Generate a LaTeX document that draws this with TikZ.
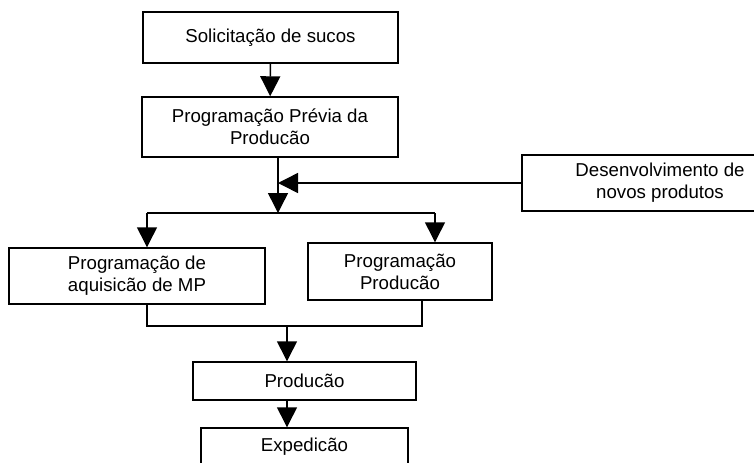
\documentclass[tikz,border=0pt]{standalone}
\usepackage{fontspec}
\setmainfont{Liberation Sans}
\usetikzlibrary{arrows.meta,positioning,calc}

\begin{document}
\begin{tikzpicture}[x=0.75pt,y=-0.75pt,
    caixa/.style={draw,line width=1.1pt,align=center,inner sep=2pt,font=\fontsize{14}{16.5}\selectfont},
    seta/.style={line width=1.1pt,-{Triangle[length=15pt,width=15pt]}},
    linha/.style={line width=1.1pt}]
    \useasboundingbox (0,0) rectangle (754,462);
    \clip (0,0) rectangle (754,462);

    % Blocks
    \node[caixa,minimum width=191.25pt,minimum height=38.25pt] (soli) at (270.5,37.5) {Solicitação de sucos};
    \node[caixa,minimum width=192pt,minimum height=45pt] (prev) at (270,127) {Programação Prévia da\\Producão};
    \node[caixa,minimum width=207pt,minimum height=42pt] (desen) at (660,183) {Desenvolvimento de\\novos produtos};
    \node[caixa,minimum width=192pt,minimum height=42pt] (aquis) at (137,276) {Programação de\\aquisicão de MP};
    \node[caixa,minimum width=138pt,minimum height=42.75pt] (progp) at (400,271.5) {Programação\\Producão};
    \node[caixa,minimum width=167.25pt,minimum height=28.5pt] (prod) at (304.5,381) {Producão};
    \node[caixa,minimum width=155.25pt,minimum height=28.5pt] (exped) at (304.5,447) {Expedicão};

    % Junctions
    \coordinate (jt) at (278,213);
    \coordinate (ea) at (147,213);
    \coordinate (ep) at (435,213);
    \coordinate (ba) at (147,326);
    \coordinate (bp) at (422,326);
    \coordinate (bm) at (287,326);

    % Connectors
    \draw[seta] (soli) -- (prev);
    \draw[seta] (prev.south -| jt) -- (jt);
    \draw[seta] (desen.west) -- (jt |- desen.west);
    \draw[linha] (ea) -- (ep);
    \draw[seta] (ea) -- (ea |- aquis.north);
    \draw[seta] (ep) -- (ep |- progp.north);
    \draw[linha] (ba |- aquis.south) -- (ba) -- (bp) -- (bp |- progp.south);
    \draw[seta] (bm) -- (bm |- prod.north);
    \draw[seta] (bm |- prod.south) -- (bm |- exped.north);
\end{tikzpicture}
\end{document}
